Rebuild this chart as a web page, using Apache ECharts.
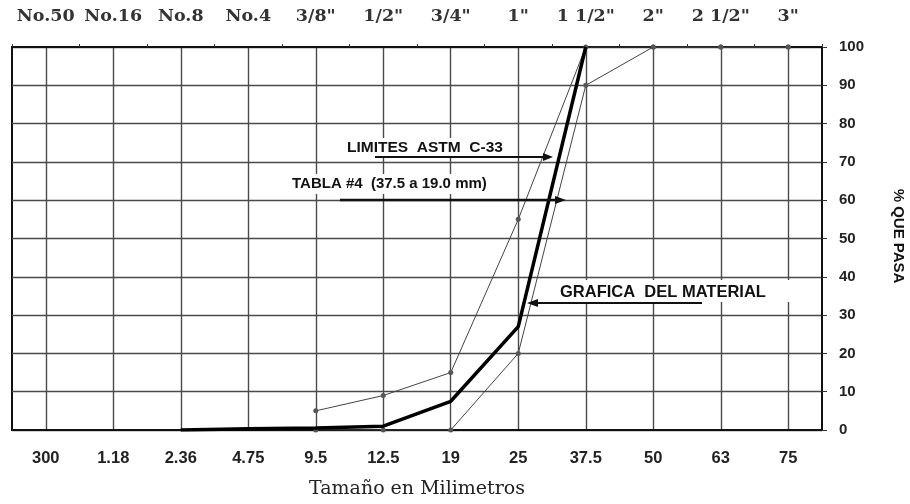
<!DOCTYPE html>
<html>
<head>
<meta charset="utf-8">
<script src="https://cdn.jsdelivr.net/npm/echarts@6/dist/echarts.min.js"></script>
<style>html,body{margin:0;padding:0;background:#fff;}#c{width:910px;height:504px;}</style>
</head>
<body>
<div id="c"></div>
<script>
var sizesMm = ['300', '1.18', '2.36', '4.75', '9.5', '12.5', '19', '25', '37.5', '50', '63', '75'];
var sieveNames = ['No.50', 'No.16', 'No.8', 'No.4', '3/8"', '1/2"', '3/4"', '1"', '1 1/2"', '2"', '2 1/2"', '3"'];
var material = [null, null, 0, 0.3, 0.5, 1, 7.5, 27, 100, null, null, null];
var upperLimit = [null, null, null, null, 5, 9, 15, 55, 100, 100, 100, 100];
var lowerLimit = [null, null, null, null, 0, 0, 0, 20, 90, 100, 100, 100];
var yTicks = [0, 10, 20, 30, 40, 50, 60, 70, 80, 90, 100];

var chart = echarts.init(document.getElementById('c'), null, {renderer: 'canvas'});
var gridCol = '#4a4a4a';
var option = {
  backgroundColor: '#fff',
  animation: false,
  grid: {left: 12, right: 88, top: 47, bottom: 71, show: true, borderColor: '#111', borderWidth: 2, backgroundColor: 'transparent'},
  xAxis: [{
    type: 'category', position: 'bottom', data: sizesMm, boundaryGap: true,
    axisLine: {show: true, lineStyle: {color: '#111', width: 2}},
    axisTick: {show: false},
    axisLabel: {margin: 20, fontFamily: 'Liberation Sans', fontWeight: 'bold', fontSize: 16.5, color: '#222', interval: 0},
    splitLine: {show: true, alignWithLabel: true, interval: 0, lineStyle: {color: gridCol, width: 1.4}},
    name: 'Tamaño en Milimetros', nameLocation: 'middle', nameGap: 50,
    nameTextStyle: {fontFamily: 'DejaVu Serif', fontSize: 19, color: '#222'}
  }, {
    type: 'category', position: 'top', data: sieveNames, boundaryGap: true,
    axisLine: {show: true, lineStyle: {color: '#111', width: 2}},
    axisTick: {show: true, inside: false, length: 3, interval: 0, lineStyle: {color: '#333', width: 1}},
    axisLabel: {margin: 22, fontFamily: 'DejaVu Serif', fontWeight: 'bold', fontSize: 17.5, color: '#333', interval: 0},
    splitLine: {show: false}
  }],
  yAxis: [{
    type: 'value', position: 'right', min: 0, max: 100, interval: 10,
    axisLine: {show: true, lineStyle: {color: '#111', width: 2}},
    axisTick: {show: true, inside: false, length: 5, lineStyle: {color: '#333', width: 1}},
    axisLabel: {margin: 17, fontFamily: 'Liberation Sans', fontWeight: 'bold', fontSize: 15, color: '#222',
      formatter: function (v) { return yTicks.indexOf(v) >= 0 ? String(v) : ''; }},
    splitLine: {show: true, lineStyle: {color: gridCol, width: 1.4}}
  }],
  series: [{
    name: 'Limite superior', type: 'line', data: upperLimit, xAxisIndex: 0, yAxisIndex: 0,
    symbol: 'circle', symbolSize: 5, showSymbol: true, connectNulls: false,
    lineStyle: {color: '#444', width: 1}, itemStyle: {color: '#555'}, z: 3
  }, {
    name: 'Limite inferior', type: 'line', data: lowerLimit, xAxisIndex: 0, yAxisIndex: 0,
    symbol: 'circle', symbolSize: 5, showSymbol: true,
    lineStyle: {color: '#444', width: 1}, itemStyle: {color: '#555'}, z: 3
  }, {
    name: 'Material', type: 'line', data: material, xAxisIndex: 0, yAxisIndex: 0,
    symbol: 'none', lineStyle: {color: '#000', width: 3.5}, z: 4
  }],
  graphic: [
    {type: 'rect', z: 1, shape: {x: 553, y: 280, width: 267, height: 22}, style: {fill: '#fff'}},
    {type: 'text', z: 5, x: 345, y: 148, style: {text: 'LIMITES  ASTM  C-33', fontFamily: 'Liberation Sans', fontWeight: 'bold', fontSize: 15.5, fill: '#111', verticalAlign: 'middle', backgroundColor: '#fff', padding: [3, 2, 1, 2]}},
    {type: 'line', z: 5, shape: {x1: 375, y1: 157, x2: 548, y2: 157}, style: {stroke: '#111', lineWidth: 2}},
    {type: 'polygon', z: 5, shape: {points: [[543, 153], [553, 157], [543, 161]]}, style: {fill: '#111'}},
    {type: 'text', z: 5, x: 290, y: 184, style: {text: 'TABLA #4  (37.5 a 19.0 mm)', fontFamily: 'Liberation Sans', fontWeight: 'bold', fontSize: 15, fill: '#111', verticalAlign: 'middle', backgroundColor: '#fff', padding: [3, 2, 2, 2]}},
    {type: 'line', z: 5, shape: {x1: 340, y1: 200, x2: 560, y2: 200}, style: {stroke: '#111', lineWidth: 2.5}},
    {type: 'polygon', z: 5, shape: {points: [[555, 196], [566, 200], [555, 204]]}, style: {fill: '#111'}},
    {type: 'text', z: 5, x: 560, y: 292, style: {text: 'GRAFICA  DEL MATERIAL', fontFamily: 'Liberation Sans', fontWeight: 'bold', fontSize: 16.5, fill: '#111', verticalAlign: 'middle'}},
    {type: 'line', z: 5, shape: {x1: 702, y1: 303, x2: 533, y2: 303}, style: {stroke: '#111', lineWidth: 2}},
    {type: 'polygon', z: 5, shape: {points: [[538, 299], [527, 303], [538, 307]]}, style: {fill: '#111'}},
    {type: 'text', z: 5, x: 898, y: 236, rotation: -Math.PI / 2, style: {text: '% QUE PASA', fontFamily: 'Liberation Sans', fontWeight: 'bold', fontSize: 15, fill: '#111', align: 'center', verticalAlign: 'middle'}}
  ]
};
chart.setOption(option);
</script>
</body>
</html>
